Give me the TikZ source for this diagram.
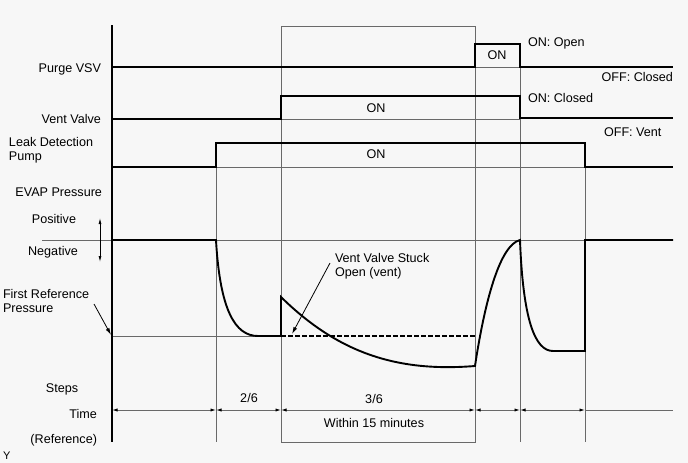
\documentclass[tikz,border=0pt]{standalone}
\usepackage{fontspec}
\setmainfont{Liberation Sans}
\usetikzlibrary{arrows.meta}
\definecolor{bg}{RGB}{247,247,247}
\definecolor{guidec}{RGB}{105,105,105}
\begin{document}
\begin{tikzpicture}[x=1pt,y=-1pt,
  font=\fontsize{12.6}{14}\selectfont,
  sig/.style={line width=1.9pt, black, line join=miter},
  guide/.style={line width=0.9pt, guidec},
  dim/.style={line width=0.9pt, guidec, {Latex[length=5.5pt,width=3.2pt,black]}-{Latex[length=5.5pt,width=3.2pt,black]}},
  callout/.style={line width=0.8pt, black, -{Latex[length=7pt,width=4pt]}},
  lbl/.style={inner sep=0pt, outer sep=0pt}]
\fill[bg] (0,0) rectangle (688,463);
\useasboundingbox (0,0) rectangle (688,463);

% guide lines
\draw[guide] (216,143) -- (216,442);
\draw[guide] (281,26) rectangle (475,442);
\draw[guide] (520,44) -- (520,442);
\draw[guide] (585,143) -- (585,442);
\draw[guide] (475,67) -- (520,67);
\draw[guide] (281,119) -- (520,119);
\draw[guide] (216,167) -- (585,167);
\draw[guide] (42,240) -- (673,240);
\draw[guide] (112,336) -- (281,336);

% axis
\draw[sig] (112,25) -- (112,442);

% Purge VSV
\draw[sig] (112,67) -- (475,67) -- (475,44) -- (520,44) -- (520,67) -- (673,67);
% Vent valve
\draw[sig] (112,119) -- (281,119) -- (281,96) -- (520,96) -- (520,118) -- (673,118);
% Leak detection pump
\draw[sig] (112,167) -- (216,167) -- (216,143) -- (585,143) -- (585,167) -- (673,167);

% EVAP pressure
\draw[sig] (112,240) -- (216,240)
  .. controls (220,310) and (235,336) .. (258,336)
  -- (281,336) -- (281,297)
  .. controls (340,355) and (400,372) .. (475,366)
  .. controls (485,300) and (500,245) .. (520,240)
  .. controls (523,320) and (535,351) .. (553,351)
  -- (585,351) -- (585,240) -- (673,240);
\draw[line width=1.4pt, dash pattern=on 4.5pt off 2.5pt] (281,336) -- (475,336);

% pressure direction arrow
\coordinate (pu) at (100,218);
\coordinate (pd) at (100,262);
\draw[line width=0.8pt, {Latex[length=6pt,width=3pt]}-{Latex[length=6pt,width=3pt]}] (pu) -- (pd);

% time dimension
\coordinate (d0) at (112,410);
\coordinate (d1) at (216,410);
\coordinate (d2) at (281,410);
\coordinate (d3) at (475,410);
\coordinate (d4) at (520,410);
\coordinate (d5) at (585,410);
\coordinate (d6) at (673,410);
\draw[dim] (d0) -- (d1);
\draw[dim] (d1) -- (d2);
\draw[dim] (d2) -- (d3);
\draw[dim] (d3) -- (d4);
\draw[dim] (d4) -- (d5);
\draw[guide] (d5) -- (d6);

% labels left
\node[lbl, anchor=east] (lpurge) at (101,69) {Purge VSV};
\node[lbl, anchor=east] (lvent) at (101,119) {Vent Valve};
\node[lbl, anchor=west, align=left] (lpump) at (9,150) {Leak Detection\\Pump};
\node[lbl, anchor=east] (levap) at (102,192) {EVAP Pressure};
\node[lbl] (lpos) at (54,219) {Positive};
\node[lbl] (lneg) at (53,252) {Negative};
\node[lbl, anchor=west, align=left] (lfirst) at (3,301) {First Reference\\Pressure};
\node[lbl] (lsteps) at (62,389) {Steps};
\node[lbl, anchor=east] (ltime) at (97,414) {Time};
\node[lbl, anchor=east] (lref) at (97,440) {(Reference)};
\node[lbl, anchor=west, font=\fontsize{11}{12}\selectfont] (ly) at (3,456) {Y};

% labels right / inside
\node[lbl] (on1) at (497,55) {ON};
\node[lbl] (on2) at (376,108) {ON};
\node[lbl] (on3) at (376,154) {ON};
\node[lbl, anchor=west] (onopen) at (528,43) {ON: Open};
\node[lbl, anchor=east] (offclosed) at (673,77) {OFF: Closed};
\node[lbl, anchor=west] (onclosed) at (528,98) {ON: Closed};
\node[lbl, anchor=west] (offvent) at (604,132) {OFF: Vent};
\node[lbl, anchor=west, align=left] (stuck) at (335,266) {Vent Valve Stuck\\Open (vent)};

% step labels
\node[lbl] (s26) at (249,398) {2/6};
\node[lbl] (s36) at (374,399) {3/6};
\node[lbl] (w15) at (374,423) {Within 15 minutes};

% callouts
\coordinate (fa) at (94,304);
\coordinate (fb) at (111,335);
\draw[callout] (fa) -- (fb);
\coordinate (sa) at (330,263);
\coordinate (sb) at (292,334);
\draw[callout] (sa) -- (sb);
\end{tikzpicture}
\end{document}
